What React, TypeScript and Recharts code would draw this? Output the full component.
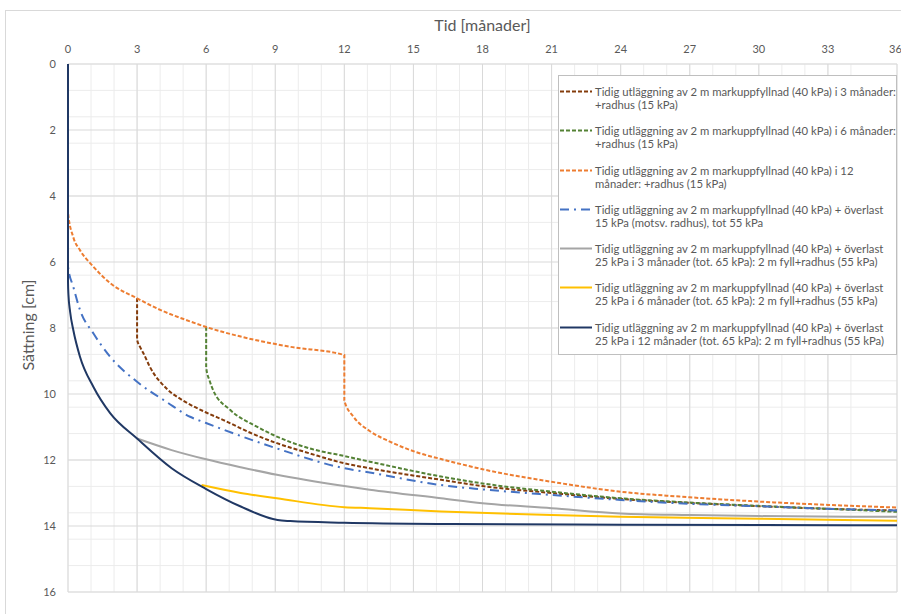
import { LineChart, Line, XAxis, YAxis, CartesianGrid, Legend } from "recharts";

type Pt = [number, number];

// Time ticks (months) and settlement ticks (cm)
const monthTicks = [0, 3, 6, 9, 12, 15, 18, 21, 24, 27, 30, 33, 36];
const cmTicks = [0, 2, 4, 6, 8, 10, 12, 14, 16];
const minorMonths = Array.from({ length: 37 }, (_, i) => i);
const minorCm = Array.from({ length: 41 }, (_, i) => Math.round(i * 4) / 10);

// [month, settlement cm]
const fill3m: Pt[] = [
  [3, 7.1], [3, 8.35], [3.15, 8.6], [3.3, 8.8], [3.55, 9.17], [4.3, 9.85], [5, 10.2],
  [6, 10.56], [6.75, 10.79], [8, 11.2], [9.07, 11.49], [10.5, 11.8], [12, 12.1],
  [13.1, 12.25], [16.2, 12.6], [18, 12.79], [21, 13.0], [24, 13.18], [27, 13.3],
  [30, 13.4], [33, 13.48], [36, 13.53],
];
const fill6m: Pt[] = [
  [6, 7.97], [6, 9.2], [6.15, 9.6], [6.3, 9.88], [7.04, 10.48], [8.2, 10.99],
  [9.07, 11.29], [10.5, 11.65], [12, 11.88], [13.1, 12.05], [16.2, 12.5], [18, 12.71],
  [21, 12.96], [24, 13.16], [27, 13.29], [30, 13.39], [33, 13.48], [36, 13.57],
];
const fill12m: Pt[] = [
  [0, 0], [0, 4.5], [0.23, 5.25], [0.52, 5.64], [1.1, 6.14], [1.83, 6.64], [3, 7.1],
  [4, 7.45], [5.3, 7.8], [6, 7.97], [7.5, 8.26], [9.65, 8.57], [12, 8.82], [12, 10.2],
  [12.4, 10.69], [13.1, 11.12], [14, 11.45], [15.2, 11.78], [16.2, 11.97], [18, 12.28],
  [21, 12.66], [24, 12.96], [27, 13.13], [30, 13.26], [33, 13.36], [36, 13.44],
];
const surcharge15: Pt[] = [
  [0, 0], [0, 6.14], [0.23, 6.75], [0.52, 7.45], [1.1, 8.16], [1.83, 8.87], [3, 9.63],
  [4.3, 10.25], [5.3, 10.69], [6, 10.88], [6.75, 11.08], [9.07, 11.65], [12, 12.25],
  [13.1, 12.38], [16.2, 12.76], [18, 12.89], [21, 13.06], [24, 13.21], [27, 13.33],
  [30, 13.4], [33, 13.48], [36, 13.53],
];
const surcharge25_3m: Pt[] = [
  [3, 11.35], [4.5, 11.7], [6, 11.98], [7.5, 12.22], [9.07, 12.45],
  [12, 12.79], [13.1, 12.9], [16.2, 13.16], [18, 13.31], [21, 13.46], [24, 13.62],
  [27, 13.67], [30, 13.7], [36, 13.72],
];
const surcharge25_6m: Pt[] = [
  [5.8, 12.76], [7.5, 13.0], [9.07, 13.16], [12, 13.43], [13.1, 13.46], [16.2, 13.56],
  [21, 13.67], [24, 13.72], [30, 13.78], [36, 13.84],
];
const surcharge25_12m: Pt[] = [
  [0, 0], [0, 6.6], [0.02, 7.0], [0.09, 7.5], [0.23, 8.06], [0.52, 8.87], [1.1, 9.78],
  [1.83, 10.58], [3, 11.35], [4.5, 12.25], [6, 12.88], [7.5, 13.41],
  [9.1, 13.82], [9.65, 13.85], [12, 13.9], [16.6, 13.94], [24, 13.96], [36, 13.98],
];

const series = [
  { key: "a", data: fill3m, color: "#843c0c", dash: "4 2",
    label: ["Tidig utläggning av 2 m markuppfyllnad (40 kPa) i 3 månader:", "+radhus (15 kPa)"] },
  { key: "b", data: fill6m, color: "#548235", dash: "4 2",
    label: ["Tidig utläggning av 2 m markuppfyllnad (40 kPa) i 6 månader:", "+radhus (15 kPa)"] },
  { key: "c", data: fill12m, color: "#ed7d31", dash: "4 2",
    label: ["Tidig utläggning av 2 m markuppfyllnad (40 kPa) i 12", "månader:  +radhus (15 kPa)"] },
  { key: "d", data: surcharge15, color: "#4472c4", dash: "9 5 2 5",
    label: ["Tidig utläggning av 2 m markuppfyllnad (40 kPa) + överlast", "15 kPa (motsv. radhus), tot 55 kPa"] },
  { key: "e", data: surcharge25_3m, color: "#a5a5a5", dash: undefined,
    label: ["Tidig utläggning av 2 m markuppfyllnad (40 kPa) + överlast", "25 kPa i 3 månader (tot. 65 kPa): 2 m fyll+radhus (55 kPa)"] },
  { key: "f", data: surcharge25_6m, color: "#ffc000", dash: undefined,
    label: ["Tidig utläggning av 2 m markuppfyllnad (40 kPa) + överlast", "25 kPa i 6 månader (tot. 65 kPa): 2 m fyll+radhus (55 kPa)"] },
  { key: "g", data: surcharge25_12m, color: "#203864", dash: undefined,
    label: ["Tidig utläggning av 2 m markuppfyllnad (40 kPa) + överlast", "25 kPa i 12 månader (tot. 65 kPa): 2 m fyll+radhus (55 kPa)"] },
];

const FONT = "Lato, 'Open Sans', sans-serif";
const TEXT = "#595959";

function ChartLegend() {
  return (
    <div
      style={{
        border: "1px solid #bfbfbf",
        background: "#fff",
        padding: "9px 0 7px 0",
        fontFamily: FONT,
        fontSize: 11.3,
        color: TEXT,
        lineHeight: "13px",
        boxSizing: "border-box",
        width: 339,
      }}
    >
      {series.map((s, i) => (
        <div key={s.key} style={{ display: "flex", alignItems: "flex-start", marginTop: i === 0 ? 0 : 13.3 }}>
          <svg width={34} height={13} style={{ flex: "none" }}>
            <line x1={1} x2={33} y1={6.5} y2={6.5} stroke={s.color} strokeWidth={2} strokeDasharray={s.dash} />
          </svg>
          <div style={{ whiteSpace: "nowrap", marginLeft: 2 }}>
            <div>{s.label[0]}</div>
            <div>{s.label[1]}</div>
          </div>
        </div>
      ))}
    </div>
  );
}

export default function App() {
  return (
    <div style={{ position: "absolute", left: 0, top: 0, width: 901, height: 614, background: "#fff", overflow: "hidden" }}>
      <div style={{ position: "absolute", left: 5, top: 10, width: 920, height: 640, border: "1px solid #d9d9d9" }} />
      <LineChart width={901} height={614} margin={{ top: 34, right: 4, bottom: 22, left: 28 }}>
        <CartesianGrid stroke="#ececec" verticalValues={minorMonths} horizontalValues={minorCm} />
        <CartesianGrid stroke="#d9d9d9" verticalValues={monthTicks} horizontalValues={cmTicks} />
        <XAxis
          type="number"
          dataKey="t"
          orientation="top"
          domain={[0, 36]}
          ticks={monthTicks}
          height={30}
          axisLine={false}
          tickLine={false}
          tickSize={0}
          tickMargin={11}
          tick={{ fill: TEXT, fontSize: 11, fontFamily: FONT }}
          label={{
            content: ({ viewBox }: any) => (
              <text x={viewBox.x + viewBox.width / 2} y={viewBox.y - 7} textAnchor="middle" dominantBaseline="middle"
                fill={TEXT} fontSize={16} fontFamily={FONT}>
                Tid [månader]
              </text>
            ),
          }}
        />
        <YAxis
          type="number"
          reversed
          domain={[0, 16]}
          ticks={cmTicks}
          width={40}
          axisLine={false}
          tickLine={false}
          tickSize={0}
          tickMargin={12}
          tick={{ fill: TEXT, fontSize: 11, fontFamily: FONT }}
          label={{
            content: ({ viewBox }: any) => {
              const x = viewBox.x + 2;
              const y = viewBox.y + viewBox.height / 2 - 3;
              return (
                <text x={x} y={y} transform={`rotate(-90 ${x} ${y})`} textAnchor="middle" dominantBaseline="middle"
                  fill={TEXT} fontSize={16} fontFamily={FONT}>
                  Sättning [cm]
                </text>
              );
            },
          }}
        />
        {series.map((s) => (
          <Line
            key={s.key}
            data={s.data.map(([t, v]) => ({ t, v }))}
            dataKey="v"
            type="monotone"
            stroke={s.color}
            strokeWidth={2}
            strokeDasharray={s.dash}
            dot={false}
            activeDot={false}
            isAnimationActive={false}
          />
        ))}
        <Legend
          layout="horizontal"
          verticalAlign="middle"
          align="center"
          wrapperStyle={{ left: 558, top: 75, width: 339, height: "auto" }}
          content={() => <ChartLegend />}
        />
      </LineChart>
    </div>
  );
}
